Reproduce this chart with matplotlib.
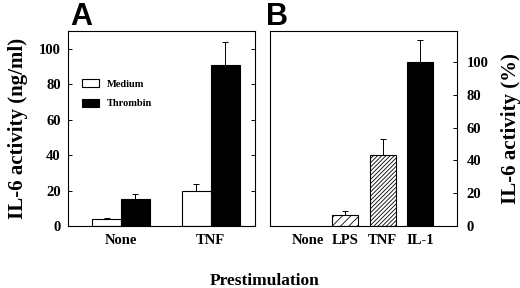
import matplotlib
matplotlib.use("Agg")
import matplotlib.pyplot as plt

plt.rcParams['font.family'] = ['Liberation Serif', 'DejaVu Serif']
plt.rcParams['font.weight'] = 'bold'
plt.rcParams['hatch.linewidth'] = 0.6

# Panel A data
a_categories = ["None", "TNF"]
a_medium = [4, 20]
a_medium_err = [0.8, 3.5]
a_thrombin = [15, 91]
a_thrombin_err = [3, 13]
a_yticks = [0, 20, 40, 60, 80, 100]

# Panel B data
b_categories = ["None", "LPS", "TNF", "IL-1"]
b_values = [0, 7, 43, 100]
b_err = [0, 2.3, 10, 13]
b_yticks = [0, 20, 40, 60, 80, 100]

fig = plt.figure(figsize=(5.2, 2.88), dpi=100)
axA = fig.add_axes([0.130, 0.215, 0.360, 0.677])
axB = fig.add_axes([0.519, 0.215, 0.359, 0.677])

tick_fs = 10.5
w = 0.32
xa = list(range(len(a_categories)))
ekw = dict(elinewidth=0.7, capthick=0.7, ecolor='black')
axA.bar([x - w/2 for x in xa], a_medium, w, color='white', edgecolor='black', linewidth=0.8,
        yerr=[[0]*len(a_medium), a_medium_err], capsize=2, error_kw=ekw, label='Medium')
axA.bar([x + w/2 for x in xa], a_thrombin, w, color='black', edgecolor='black', linewidth=0.8,
        yerr=[[0]*len(a_thrombin), a_thrombin_err], capsize=2, error_kw=ekw, label='Thrombin')
axA.set_xlim(-0.594, 1.49)
axA.set_ylim(0, 110)
axA.set_yticks(a_yticks)
axA.set_xticks(xa)
axA.set_xticklabels(a_categories)
axA.tick_params(axis='y', direction='in', left=True, right=True, length=3, labelsize=tick_fs, width=0.7, pad=5)
axA.tick_params(axis='x', length=0, labelsize=tick_fs, pad=6)
axA.set_ylabel("IL-6 activity (ng/ml)", fontsize=15, fontweight='bold', labelpad=8)
leg = axA.legend(loc='upper left', bbox_to_anchor=(0.055, 0.775), frameon=False,
                 fontsize=7.5, handlelength=1.6, handleheight=0.8, handletextpad=0.8,
                 labelspacing=0.95, borderaxespad=0.0)

hatches = ['', '////', '////////', '']
colors = ['white', 'white', 'white', 'black']
xb = list(range(len(b_categories)))
bw = 0.7
for i in xb:
    if b_values[i] == 0:
        continue
    axB.bar(xb[i], b_values[i], bw, color=colors[i], edgecolor='black', linewidth=0.8,
            hatch=hatches[i], yerr=[[0], [b_err[i]]], capsize=2, error_kw=ekw)
axB.set_xlim(-1.01, 3.97)
axB.set_ylim(0, 118.7)
axB.set_yticks(b_yticks)
axB.set_xticks(xb)
axB.set_xticklabels(b_categories)
axB.yaxis.tick_right()
axB.yaxis.set_label_position('right')
axB.tick_params(axis='y', direction='in', left=False, right=True, labelleft=False, labelright=True,
                length=3, labelsize=tick_fs, width=0.7, pad=7)
axB.tick_params(axis='x', length=0, labelsize=tick_fs, pad=6)
axB.set_ylabel("IL-6 activity (%)", fontsize=15, fontweight='bold', labelpad=9)

for ax in (axA, axB):
    for s in ax.spines.values():
        s.set_linewidth(0.8)

fig.text(70/520, 1 - 25/288, "A", fontsize=22, fontweight='bold', family='Liberation Sans',
         ha='left', va='baseline')
fig.text(266/520, 1 - 25/288, "B", fontsize=22, fontweight='bold', family='Liberation Sans',
         ha='left', va='baseline')
fig.text(265/520, 1 - 285/288, "Prestimulation", fontsize=12.5, fontweight='bold',
         ha='center', va='baseline')

fig.savefig("out.png", dpi=100)
